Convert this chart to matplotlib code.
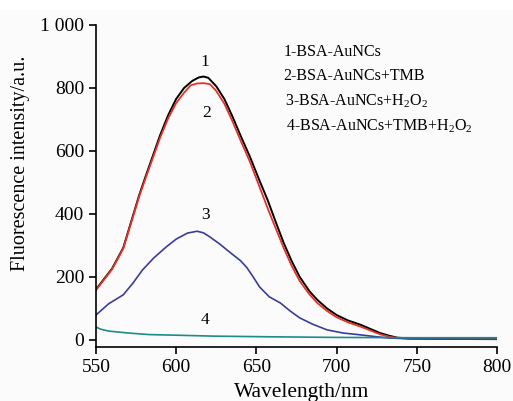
import matplotlib.pyplot as plt
from matplotlib.patches import Rectangle

plt.rcParams['font.family'] = ['Liberation Serif', 'DejaVu Serif']
plt.rcParams['mathtext.fontset'] = 'custom'
plt.rcParams['mathtext.rm'] = 'Liberation Serif'

# 1-BSA-AuNCs
wl1 = [550, 560, 567, 577, 580, 590, 595, 600, 605, 610, 614, 617, 620, 625,
       630, 635, 640, 646, 652, 657, 662, 667, 672, 677, 683, 688, 694, 700,
       707, 715, 721, 727, 733, 738, 745, 760, 800]
s1 = [160, 226, 292, 460, 505, 650, 713, 765, 800, 822, 833, 836, 832, 805,
      765, 710, 650, 581, 505, 444, 375, 308, 250, 200, 155, 127, 100, 79,
      62, 48, 35, 22, 13, 7, 5, 4, 3]
# 2-BSA-AuNCs+TMB
wl2 = [550, 560, 567, 577, 580, 590, 595, 600, 605, 609, 613, 617, 621, 625,
       630, 635, 640, 646, 652, 658, 662, 667, 672, 677, 683, 688, 694, 700,
       707, 715, 721, 727, 733, 738, 745, 760, 800]
s2 = [158, 224, 290, 456, 500, 642, 703, 752, 785, 808, 814, 815, 812, 790,
      750, 695, 635, 565, 485, 405, 355, 292, 235, 187, 145, 117, 92, 72,
      56, 42, 30, 18, 10, 6, 4, 3, 3]
# 3-BSA-AuNCs+H2O2
wl3 = [550, 558, 567, 573, 579, 586, 594, 600, 607, 613, 617, 621, 627, 634,
       640, 644, 648, 652, 658, 665, 671, 677, 685, 694, 704, 715, 725, 733,
       745, 760, 800]
s3 = [79, 115, 143, 180, 222, 260, 296, 320, 339, 345, 340, 327, 305, 276,
      252, 230, 200, 168, 137, 117, 92, 70, 50, 32, 22, 16, 10, 6,
      4, 3, 2]
# 4-BSA-AuNCs+TMB+H2O2
wl4 = [550, 553, 558, 570, 583, 600, 624, 658, 700, 750, 800]
s4 = [41, 34, 28, 22, 17, 15, 12, 10, 8, 7, 7]

yticks = [0, 200, 400, 600, 800, 1000]
ytick_labels = ['0', '200', '400', '600', '800', '1 000']
xticks = [550, 600, 650, 700, 750, 800]

legend_lines = ['1-BSA-AuNCs',
                '2-BSA-AuNCs+TMB',
                '3-BSA-AuNCs+H$_2$O$_2$',
                '4-BSA-AuNCs+TMB+H$_2$O$_2$']

fig = plt.figure(figsize=(5.13, 4.01), dpi=100, facecolor='#fbfbfb')
# white strip at the very top, as in the scan
fig.patches.append(Rectangle((0, 0.975), 1, 0.025, transform=fig.transFigure,
                             facecolor='white', edgecolor='none', zorder=-1))
ax = fig.add_axes([0.187, 0.135, 0.782, 0.803])
ax.set_facecolor('#fbfbfb')

ax.plot(wl1, s1, color='black', lw=1.4)
ax.plot(wl2, s2, color='#e8302a', lw=1.3)
ax.plot(wl3, s3, color='#3a3d98', lw=1.2)
ax.plot(wl4, s4, color='#1b8c8a', lw=1.2)

ax.text(618, 883, '1', fontsize=12.5, ha='center', va='center')
ax.text(619, 720, '2', fontsize=12.5, ha='center', va='center')
ax.text(618, 397, '3', fontsize=12.5, ha='center', va='center')
ax.text(618, 63, '4', fontsize=12.5, ha='center', va='center')

ax.set_xlim(550, 800)
ax.set_ylim(-22, 1000)
ax.set_xticks(xticks)
ax.set_yticks(yticks)
ax.set_yticklabels(ytick_labels)
ax.tick_params(labelsize=14, length=5, width=1.2, direction='out')
for side in ['top', 'right']:
    ax.spines[side].set_visible(False)
for side in ['left', 'bottom']:
    ax.spines[side].set_linewidth(1.2)

fig.text(0.589, 0.022, 'Wavelength/nm', fontsize=15.5, ha='center', va='center')
fig.text(0.039, 0.593, 'Fluorescence intensity/a.u.', fontsize=14.5,
         rotation=90, ha='center', va='center')

ys = [0.870, 0.810, 0.748, 0.686]
xs = [0.552, 0.552, 0.556, 0.558]
for x, y, t in zip(xs, ys, legend_lines):
    fig.text(x, y, t, fontsize=11.5, ha='left', va='center')

fig.savefig('out.png', dpi=100, facecolor=fig.get_facecolor())
